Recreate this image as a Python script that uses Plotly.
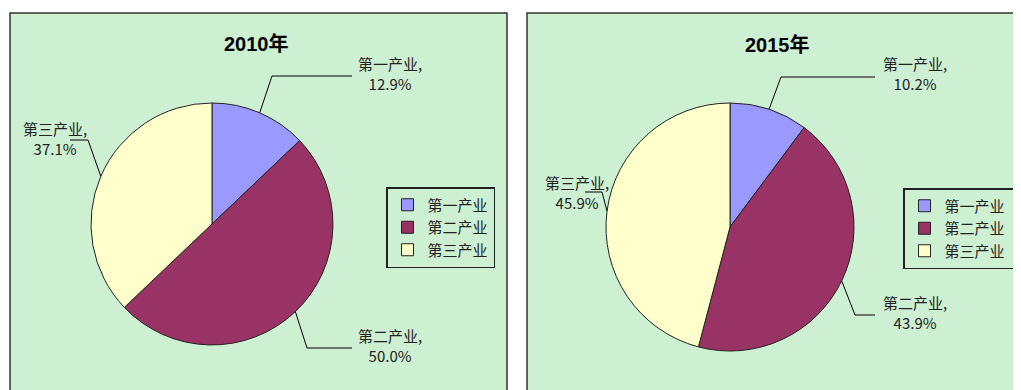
"""
Pie charts of the industry structure (share of GDP) in 2010 and 2015.
"""
import math
import plotly.graph_objects as go

W, H = 1021, 390
OFF = 8  # default body margin of the html page

# data
industries = ["第一产业", "第二产业", "第三产业"]
share_2010 = [12.9, 50.0, 37.1]
share_2015 = [10.2, 43.9, 45.9]
years = ["2010年", "2015年"]

colors = ["#9999FF", "#993366", "#FFFFCC"]
panel_bg = "#CDEFD2"
cjk_font = "Noto Sans CJK SC"


def px(x):
    """pixel x of the page -> paper x"""
    return (x - OFF) / (W - OFF)


def py(y):
    """pixel y of the page (from the top) -> paper y"""
    return 1 - (y - OFF) / (H - OFF)


def edge_points(values, cx, cy, r):
    """
    Return the point on the pie edge in the middle of every slice
    (first slice starts at 12 o'clock, clockwise)
    """
    total = sum(values)
    pts = []
    start = 0
    for v in values:
        mid = (start + v / 2) / total * 2 * math.pi
        pts.append((cx + r * math.sin(mid), cy - r * math.cos(mid)))
        start += v
    return pts


# panel layout in pixels: frame, pie centre / radius, title, legend,
# and for every label: text centre, elbow of the leader line, end of the leader line
panels = [
    dict(frame=(10, 13, 507, 400), center=(212, 224), radius=121, title=(256, 44),
         legend=(386, 187), legend_name="legend", suffix="",
         labels=[((390, 73), (272, 76), (352, 76)),
                 ((390, 345), (307, 348), (352, 348)),
                 ((55, 138), (88, 140), (70, 140))]),
    dict(frame=(527, 13, 1040, 400), center=(730, 227), radius=124, title=(777, 45),
         legend=(903, 188), legend_name="legend2", suffix=" ",
         labels=[((915, 73), (781, 77), (875, 77)),
                 ((915, 312), (855, 315), (875, 315)),
                 ((577, 192), (602, 192), (585, 192))]),
]

fig = go.Figure()
shapes = []
annotations = []
legends = {}

for values, year, p in zip([share_2010, share_2015], years, panels):
    x0, y0, x1, y1 = p["frame"]
    shapes.append(dict(type="rect", xref="paper", yref="paper",
                       x0=px(x0), x1=px(x1), y0=py(y1), y1=py(y0),
                       fillcolor=panel_bg, line=dict(color="#333333", width=1.5),
                       layer="below"))

    cx, cy = p["center"]
    r = p["radius"]
    fig.add_trace(go.Pie(
        labels=[n + p["suffix"] for n in industries], values=values,
        sort=False, direction="clockwise", rotation=0,
        textinfo="none", hoverinfo="label+percent",
        marker=dict(colors=colors, line=dict(color="#222222", width=1)),
        domain=dict(x=[px(cx - r), px(cx + r)], y=[py(cy + r), py(cy - r)]),
        legend=p["legend_name"],
    ))

    # title
    annotations.append(dict(xref="paper", yref="paper", x=px(p["title"][0]), y=py(p["title"][1]),
                            xanchor="center", yanchor="middle",
                            text="<b>" + year + "</b>", showarrow=False,
                            font=dict(family="Liberation Sans, " + cjk_font, size=20, color="black")))

    # data labels with leader lines
    for name, v, edge, (txt, elbow, end) in zip(industries, values,
                                                edge_points(values, cx, cy, r), p["labels"]):
        shapes.append(dict(type="path", xref="paper", yref="paper",
                           path="M {} {} L {} {} L {} {}".format(px(edge[0]), py(edge[1]),
                                                                 px(elbow[0]), py(elbow[1]),
                                                                 px(end[0]), py(end[1])),
                           line=dict(color="black", width=1)))
        annotations.append(dict(xref="paper", yref="paper", x=px(txt[0]), y=py(txt[1]),
                                xanchor="center", yanchor="middle",
                                text=name + ",<br>" + "{:.1f}%".format(v), showarrow=False,
                                align="center", font=dict(family=cjk_font, size=15, color="#222222")))

    legends[p["legend_name"]] = dict(
        x=px(p["legend"][0]), y=py(p["legend"][1]), xanchor="left", yanchor="top",
        bgcolor=panel_bg, bordercolor="#222222", borderwidth=1.5,
        font=dict(family=cjk_font, size=15, color="#222222"),
        itemwidth=30, tracegroupgap=0)

fig.update_layout(
    width=W - OFF, height=H - OFF,
    margin=dict(l=0, r=0, t=0, b=0),
    paper_bgcolor="white",
    shapes=shapes,
    annotations=annotations,
    showlegend=True,
    **legends,
)

fig.write_html("out.html")
